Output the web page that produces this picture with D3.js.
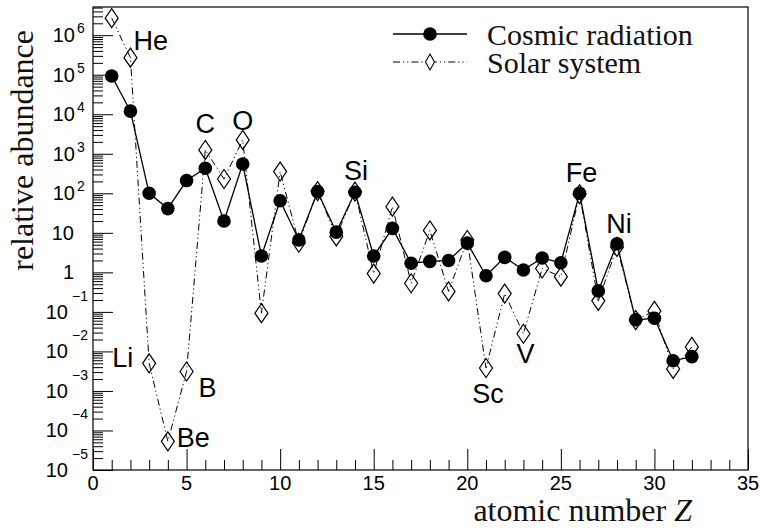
<!DOCTYPE html>
<html>
<head>
<meta charset="utf-8">
<script src="https://cdn.jsdelivr.net/npm/d3@7"></script>
<style>
  html, body { margin: 0; padding: 0; background: #fff; }
  svg { display: block; }
</style>
</head>
<body>
<svg id="chart" width="761" height="529"></svg>
<script>
// Atomic numbers Z = 1 .. 32
const atomicNumbers = [1,2,3,4,5,6,7,8,9,10,11,12,13,14,15,16,17,18,19,20,21,22,23,24,25,26,27,28,29,30,31,32];

// Relative abundance in the galactic cosmic radiation
const cosmicAbundance = [9.3e4, 1.2e4, 100, 41, 210, 430, 20, 550, 2.6, 65,
  6.6, 110, 10.4, 106, 2.6, 13, 1.7, 1.9, 2.0, 5.5,
  0.82, 2.4, 1.15, 2.3, 1.75, 100, 0.34, 5.3, 0.063, 0.069,
  0.0058, 0.0074];

// Relative abundance in the solar system
const solarAbundance = [2.7e6, 2.7e5, 0.005, 5.3e-5, 0.0031, 1250, 230, 2240, 0.093, 355,
  5.6, 113, 8.1, 110, 0.93, 46, 0.53, 11.5, 0.33, 6.6,
  0.0038, 0.29, 0.028, 1.25, 0.78, 95, 0.19, 4.4, 0.062, 0.106,
  0.0036, 0.013];

// Element names written next to selected points
const elementSymbols = ["He", "Li", "Be", "B", "C", "O", "Si", "Sc", "V", "Fe", "Ni"];
const elementZ       = [2, 3, 4, 5, 6, 8, 14, 21, 23, 26, 28];

// Axis ticks
const xMajorTicks = [0, 5, 10, 15, 20, 25, 30, 35];
const yDecadeExponents = [-5, -4, -3, -2, -1, 0, 1, 2, 3, 4, 5, 6];

const seriesNames = ["Cosmic radiation", "Solar system"];
const xTitle = "atomic number ";
const xTitleVar = "Z";
const yTitle = "relative abundance";

// ---- layout ----
const frame = { left: 93, right: 748, top: 7, bottom: 470 };
const svg = d3.select("#chart");
const sans = "'Liberation Sans', Arial, Helvetica, sans-serif";
const serif = "'Liberation Serif', 'Times New Roman', Times, serif";

const x = d3.scaleLinear().domain([0, 35]).range([frame.left, frame.right]);
const y = d3.scaleLog().domain([1e-5, 5.17e6]).range([frame.bottom, frame.top]);

// ---- axes (ticks drawn inwards) ----
const xMinor = d3.range(0, 36, 1).filter(v => v % 5 !== 0);
svg.append("g")
  .attr("transform", `translate(0,${frame.bottom})`)
  .call(d3.axisTop(x).tickValues(xMinor).tickSize(10).tickFormat(""))
  .call(g => g.select(".domain").remove());
svg.append("g")
  .attr("transform", `translate(0,${frame.bottom})`)
  .call(d3.axisTop(x).tickValues(xMajorTicks).tickSize(21).tickFormat(""))
  .call(g => g.select(".domain").remove());

const yMajor = yDecadeExponents.map(e => Math.pow(10, e));
const yMinor = [];
yDecadeExponents.forEach(e => {
  for (let m = 2; m <= 9; m++) {
    const v = m * Math.pow(10, e);
    if (v <= y.domain()[1]) yMinor.push(v);
  }
});
svg.append("g")
  .attr("transform", `translate(${frame.left},0)`)
  .call(d3.axisRight(y).tickValues(yMinor).tickSize(10).tickFormat(""))
  .call(g => g.select(".domain").remove());
svg.append("g")
  .attr("transform", `translate(${frame.left},0)`)
  .call(d3.axisRight(y).tickValues(yMajor).tickSize(20).tickFormat(""))
  .call(g => g.select(".domain").remove());
svg.selectAll(".tick line").attr("stroke", "#000").attr("stroke-width", 1);

// frame
svg.append("rect")
  .attr("x", frame.left).attr("y", frame.top)
  .attr("width", frame.right - frame.left).attr("height", frame.bottom - frame.top)
  .attr("fill", "none").attr("stroke", "#000").attr("stroke-width", 1.2);

// x tick labels
svg.append("g").selectAll("text").data(xMajorTicks).join("text")
  .attr("x", d => x(d)).attr("y", 490)
  .attr("text-anchor", "middle")
  .attr("font-family", sans).attr("font-size", 20)
  .text(d => d);

// y tick labels: 1, 10 plain; others as 10 with superscript exponent
const yLab = svg.append("g").attr("font-family", sans);
yDecadeExponents.forEach(e => {
  const yy = y(Math.pow(10, e));
  if (e === 0 || e === 1) {
    yLab.append("text").attr("x", 74).attr("y", yy + 7)
      .attr("text-anchor", "end").attr("font-size", 20)
      .text(e === 0 ? "1" : "10");
  } else {
    const neg = e < 0;
    yLab.append("text").attr("x", neg ? 68 : 75).attr("y", yy + 7)
      .attr("text-anchor", "end").attr("font-size", 20).text("10");
    yLab.append("text").attr("x", neg ? 72 : 77).attr("y", yy + 7 - (neg ? 18 : 9))
      .attr("text-anchor", "start").attr("font-size", 14)
      .text(neg ? "\u2212" + Math.abs(e) : String(e));
  }
});

// axis titles
svg.append("text")
  .attr("x", 692).attr("y", 521)
  .attr("text-anchor", "end")
  .attr("font-family", serif).attr("font-size", 32).attr("fill", "#111")
  .call(t => {
    t.append("tspan").text(xTitle);
    t.append("tspan").attr("font-style", "italic").text(xTitleVar);
  });
svg.append("text")
  .attr("transform", "translate(33,30) rotate(-90)")
  .attr("text-anchor", "end")
  .attr("font-family", serif).attr("font-size", 32).attr("fill", "#111")
  .text(yTitle);

// ---- series ----
const solarPts = atomicNumbers.map((z, i) => [z, solarAbundance[i]]);
const cosmicPts = atomicNumbers.map((z, i) => [z, cosmicAbundance[i]]);
const line = d3.line().x(d => x(d[0])).y(d => y(d[1]));
const dashDotDot = "7,3,1.2,3,1.2,3";

const diamond = (w, h) => `M0,${-h/2}L${w/2},0L0,${h/2}L${-w/2},0Z`;

const plot = svg.append("g");
plot.append("path").datum(solarPts)
  .attr("d", line).attr("fill", "none")
  .attr("stroke", "#000").attr("stroke-width", 1).attr("stroke-dasharray", dashDotDot);
plot.append("g").selectAll("path").data(solarPts).join("path")
  .attr("transform", d => `translate(${x(d[0])},${y(d[1])})`)
  .attr("d", diamond(13, 19))
  .attr("fill", "none").attr("stroke", "#000").attr("stroke-width", 1.2);

plot.append("path").datum(cosmicPts)
  .attr("d", line).attr("fill", "none")
  .attr("stroke", "#000").attr("stroke-width", 1.3);
plot.append("g").selectAll("circle").data(cosmicPts).join("circle")
  .attr("cx", d => x(d[0])).attr("cy", d => y(d[1])).attr("r", 6.8)
  .attr("fill", "#000");

// ---- element labels ----
// placement relative to the point of each element: [series, dx, dy, anchor]
const labelPlacement = {
  He: ["solar", 3, -8, "start"],
  Li: ["solar", -16, 4, "end"],
  Be: ["solar", 9, 6, "start"],
  B:  ["solar", 12, 25, "start"],
  C:  ["solar", 0, -17, "middle"],
  O:  ["solar", 0, -10, "middle"],
  Si: ["cosmic", 1, -12, "middle"],
  Sc: ["solar", 2, 35, "middle"],
  V:  ["solar", 2, 29, "middle"],
  Fe: ["cosmic", 2, -11, "middle"],
  Ni: ["cosmic", 2, -11, "middle"]
};
svg.append("g").selectAll("text").data(elementSymbols).join("text")
  .attr("x", (s, i) => x(elementZ[i]) + labelPlacement[s][1])
  .attr("y", (s, i) => {
    const src = labelPlacement[s][0] === "solar" ? solarAbundance : cosmicAbundance;
    return y(src[elementZ[i] - 1]) + labelPlacement[s][2];
  })
  .attr("text-anchor", s => labelPlacement[s][3])
  .attr("font-family", sans).attr("font-size", 27)
  .text(s => s);

// ---- legend ----
const leg = svg.append("g");
const legRows = [34, 62];
leg.append("line").attr("x1", 393).attr("x2", 467).attr("y1", legRows[0]).attr("y2", legRows[0])
  .attr("stroke", "#000").attr("stroke-width", 1.3);
leg.append("circle").attr("cx", 430).attr("cy", legRows[0]).attr("r", 6.8).attr("fill", "#000");
leg.append("line").attr("x1", 393).attr("x2", 467).attr("y1", legRows[1]).attr("y2", legRows[1])
  .attr("stroke", "#000").attr("stroke-width", 1).attr("stroke-dasharray", dashDotDot);
leg.append("path").attr("transform", `translate(430,${legRows[1]})`)
  .attr("d", diamond(9, 16)).attr("fill", "#fff").attr("stroke", "#000").attr("stroke-width", 1.1);
leg.selectAll("text").data(seriesNames).join("text")
  .attr("x", 487).attr("y", (d, i) => legRows[i] + 11)
  .attr("font-family", serif).attr("font-size", 30).attr("fill", "#111")
  .text(d => d);
</script>
</body>
</html>
